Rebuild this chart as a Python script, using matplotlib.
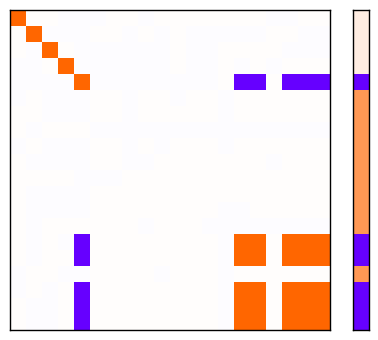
import numpy as np
import matplotlib
matplotlib.use("Agg")
import matplotlib.pyplot as plt
from matplotlib.colors import LinearSegmentedColormap

# cell codes:
# O = strong positive, P = strong negative, W = faint positive, B = faint negative
rows = [
    "OWWBBBWWBWWWWWWWBBWW",
    "WOBBBWWBWBWBBBBBWWBB",
    "WBOWBBBBBBWBBWWWWBBB",
    "BBWOBBBBBBWBBWBWBWWW",
    "BBBBOBBBBBBBBWPPWPPP",
    "BWBBBWWBWWBWWBWWWWWW",
    "WWBBBWWBWWWWWBWWWWWW",
    "WBWWWBBBBBBBBBBBBBBB",
    "BWBBBWWBWBWWWBWWWWWW",
    "WBBBBWWBBWWWWWWWBWWW",
    "WWWWBBBWWWWWWWWWWWWW",
    "WBBBBWWWWWWWWWWWWWWW",
    "WBBBBWWWWWWWWBBWWWWW",
    "WBWWWWWWBWWWBBBBBBBB",
    "WBWBPWWWWWWWWBOOWOOO",
    "WBWWPWWWWWWWWBOOWOOO",
    "BWWBBWWWWBWWWBWWWWWW",
    "BWBWPWWWWWWWWBOOWOOO",
    "WBBWPWWWWWWWWBOOWOOO",
    "WBBWPWWWWWWWWBOOWOOO",
]
code_values = {"O": 1.0, "P": -1.0, "W": 0.012, "B": -0.012}

# side strip, one value per row
strip_values = [0.11, 0.11, 0.11, 0.11, -1.0,
                0.67, 0.67, 0.67, 0.67, 0.67, 0.67, 0.67, 0.67, 0.67,
                -1.0, -1.0, 0.67, -1.0, -1.0, -1.0]

matrix = np.array([[code_values[c] for c in r] for r in rows])
strip = np.array(strip_values).reshape(-1, 1)

cmap = LinearSegmentedColormap.from_list("po", ["#6600ff", "#ffffff", "#ff6600"])

fig = plt.figure(figsize=(3.78, 3.40), dpi=100)
ax = fig.add_axes([10 / 378, 10 / 340, 320 / 378, 320 / 340])
ax.imshow(matrix, cmap=cmap, vmin=-1, vmax=1, aspect="auto", interpolation="nearest")
ax.set_xticks([])
ax.set_yticks([])

ax2 = fig.add_axes([353 / 378, 10 / 340, 16 / 378, 320 / 340])
ax2.imshow(strip, cmap=cmap, vmin=-1, vmax=1, aspect="auto", interpolation="nearest")
ax2.set_xticks([])
ax2.set_yticks([])

for a in (ax, ax2):
    for s in a.spines.values():
        s.set_linewidth(1.0)

fig.savefig("out.png", dpi=100)
